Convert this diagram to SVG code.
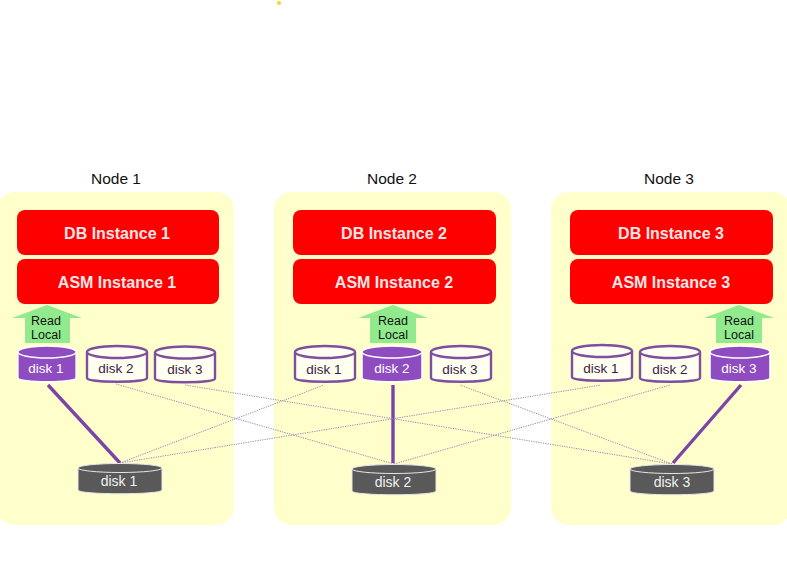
<svg xmlns="http://www.w3.org/2000/svg" xmlns:xlink="http://www.w3.org/1999/xlink" width="787" height="572" viewBox="0 0 787 572">
<style>
text{font-family:"Liberation Sans",Arial,sans-serif;text-anchor:middle}
.panel{fill:#ffffcc}
.title{font-size:15.5px;fill:#111}
.inst{fill:#ff0000}
.instt{font-size:16px;font-weight:bold;fill:#fbe6e6}
.arrow{fill:#92ea8e}
.rl{font-size:12.5px;fill:#111}
.dt{font-size:13.5px}
.pf{fill:#8e4cc0;stroke:#fff;stroke-width:1.5}
.pt{fill:#fff}
.of{fill:#fffff0;stroke:#7d4f9e;stroke-width:2.4}
.ot{fill:#3a1a4a}
.gf{fill:#595959;stroke:#e6e6e6;stroke-width:1}
.gt{fill:#f2f2f2;font-size:14px}
.thick{stroke:#7d44a8;stroke-width:3.4;fill:none}
.thin{stroke:#9a80b8;stroke-width:1;fill:none;stroke-dasharray:1.2 1.2}
</style>
<defs>
<g id="cyl"><path d="M-30 -13V13C-30 18 30 18 30 13V-13"/><ellipse cx="0" cy="-13" rx="30" ry="6"/></g>
<g id="base"><path d="M-42 0V22C-42 27 42 27 42 22V0"/><ellipse cx="0" cy="0" rx="42" ry="4.500"/></g>
</defs>
<rect width="787" height="572" fill="#fff"/>
<circle cx="279" cy="3" r="2" fill="#f5d327"/>
<g id="node1">
<rect class="panel" x="-3" y="192" width="237" height="333" rx="18"/>
<text class="title" x="116" y="184">Node 1</text>
<rect class="inst" x="17" y="210" width="202" height="45" rx="8"/>
<text class="instt" x="117" y="239">DB Instance 1</text>
<rect class="inst" x="17" y="259" width="202" height="45" rx="8"/>
<text class="instt" x="117" y="288">ASM Instance 1</text>
<path class="arrow" d="M47 305L82 318H70V343H25V318H12Z"/>
<text class="rl" x="46" y="325">Read</text><text class="rl" x="46" y="339">Local</text>
<use xlink:href="#cyl" class="pf" transform="translate(47 365) scale(.97 1)"/><text class="dt pt" x="46" y="373">disk 1</text>
<use xlink:href="#cyl" class="of" transform="translate(117 365)"/><text class="dt ot" x="116" y="373">disk 2</text>
<use xlink:href="#cyl" class="of" transform="translate(185 365.500)"/><text class="dt ot" x="185" y="374">disk 3</text>
</g>
<g id="node2">
<rect class="panel" x="274" y="192" width="237" height="333" rx="18"/>
<text class="title" x="392" y="184">Node 2</text>
<rect class="inst" x="293" y="210" width="203" height="45" rx="8"/>
<text class="instt" x="394" y="239">DB Instance 2</text>
<rect class="inst" x="293" y="259" width="203" height="45" rx="8"/>
<text class="instt" x="394" y="288">ASM Instance 2</text>
<path class="arrow" d="M393 305L428 318H416V343H370V318H358Z"/>
<text class="rl" x="393" y="325">Read</text><text class="rl" x="393" y="339">Local</text>
<use xlink:href="#cyl" class="of" transform="translate(325 365)"/><text class="dt ot" x="324" y="374">disk 1</text>
<use xlink:href="#cyl" class="pf" transform="translate(392 365)"/><text class="dt pt" x="392" y="373">disk 2</text>
<use xlink:href="#cyl" class="of" transform="translate(461 365)"/><text class="dt ot" x="460" y="374">disk 3</text>
</g>
<g id="node3">
<rect class="panel" x="551" y="192" width="240" height="333" rx="18"/>
<text class="title" x="669" y="184">Node 3</text>
<rect class="inst" x="570" y="210" width="203" height="45" rx="8"/>
<text class="instt" x="671" y="239">DB Instance 3</text>
<rect class="inst" x="570" y="259" width="203" height="45" rx="8"/>
<text class="instt" x="671" y="288">ASM Instance 3</text>
<path class="arrow" d="M739 305L774 318H762V343H716V318H704Z"/>
<text class="rl" x="739" y="325">Read</text><text class="rl" x="739" y="339">Local</text>
<use xlink:href="#cyl" class="of" transform="translate(602 364)"/><text class="dt ot" x="601" y="373">disk 1</text>
<use xlink:href="#cyl" class="of" transform="translate(670 365)"/><text class="dt ot" x="670" y="374">disk 2</text>
<use xlink:href="#cyl" class="pf" transform="translate(740 365)"/><text class="dt pt" x="739" y="373">disk 3</text>
</g>
<g id="connectors">
<path class="thick" d="M48 385L120 463M393 385V463M741 385L673 463"/>
<path class="thin" d="M120 463L324 385M120 463L601 385M394 464L116 384M394 464L670 385M672 464L185 385M672 464L460 385"/>
</g>
<g id="shared1"><use xlink:href="#base" class="gf" transform="translate(120 468)"/><text class="gt" x="119" y="486">disk 1</text></g>
<g id="shared2"><use xlink:href="#base" class="gf" transform="translate(394 469)"/><text class="gt" x="393" y="487">disk 2</text></g>
<g id="shared3"><use xlink:href="#base" class="gf" transform="translate(672 469)"/><text class="gt" x="672" y="487">disk 3</text></g>
</svg>
